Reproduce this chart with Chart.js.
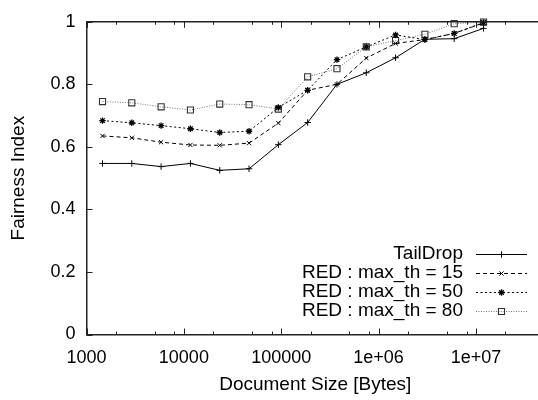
<!DOCTYPE html>
<html>
<head>
<meta charset="utf-8">
<script src="https://cdn.jsdelivr.net/npm/chart.js@4/dist/chart.umd.min.js"></script>
<style>
  html, body { margin:0; padding:0; background:#fff; overflow:hidden; }
  #wrap { width:538px; height:400px; overflow:hidden; }
</style>
</head>
<body>
<div id="wrap"><canvas id="fair" width="550" height="400"></canvas></div>
<script>
// document sizes (bytes)
const docSizes = [1460, 2920, 5840, 11680, 23360, 46720, 93440, 186880, 373760, 747520, 1495040, 2990080, 5980160, 11960320];

const tailDrop = [0.547, 0.547, 0.537, 0.547, 0.525, 0.530, 0.607, 0.678, 0.800, 0.837, 0.885, 0.944, 0.946, 0.979];
const red15    = [0.635, 0.629, 0.615, 0.606, 0.605, 0.612, 0.676, 0.781, 0.800, 0.884, 0.931, 0.943, 0.963, 0.996];
const red50    = [0.684, 0.677, 0.668, 0.658, 0.646, 0.650, 0.726, 0.781, 0.879, 0.920, 0.958, 0.943, 0.963, 0.998];
const red80    = [0.745, 0.741, 0.728, 0.718, 0.737, 0.735, 0.721, 0.824, 0.850, 0.920, 0.940, 0.960, 0.994, 0.999];

const seriesNames = ['TailDrop', 'RED : max_th = 15', 'RED : max_th = 50', 'RED : max_th = 80'];

const xTickValues = [1000, 10000, 100000, 1000000, 10000000];
const xTickLabels = ['1000', '10000', '100000', '1e+06', '1e+07'];
const xMinorSteps = [2, 5, 8];
const yTickValues = [0, 0.2, 0.4, 0.6, 0.8, 1];
const yTickLabels = ['0', '0.2', '0.4', '0.6', '0.8', '1'];

const FONT = 'Liberation Sans, Arial, sans-serif';

function pts(ys){
	return docSizes.map((x, i) => ({x, y: ys[i]}));
}

function mkSet(label, ys, color, dash, style, radius, pbw){
	return {
		label,
		data: pts(ys),
		borderColor: color,
		borderWidth: 1,
		borderDash: dash,
		pointStyle: style,
		pointRadius: radius,
		pointHoverRadius: radius,
		pointBorderColor: style == 'rect' ? '#333' : '#000',
		pointBackgroundColor: 'rgba(0,0,0,0)',
		pointBorderWidth: pbw,
		tension: 0,
		clip: false
	};
}

const datasets = [
	mkSet(seriesNames[0], tailDrop, '#000', [], 'cross', 3.2, 1),
	mkSet(seriesNames[1], red15, '#000', [4, 3], 'crossRot', 3, 1),
	mkSet(seriesNames[2], red50, '#000', [2, 2.5], 'star', 3.2, 1.3),
	mkSet(seriesNames[3], red80, '#777', [1, 1.5], 'rect', 4.3, 1.1)
];

// gnuplot style inward ticks, top border and key
const gnuplotBits = {
	id: 'gnuplotBits',
	afterDatasetsDraw(chart){
		const ctx = chart.ctx;
		const xs = chart.scales.x, ys = chart.scales.y;
		const a = chart.chartArea;
		ctx.save();
		ctx.strokeStyle = '#222';
		ctx.lineWidth = 1.5;
		ctx.beginPath();
		ctx.moveTo(a.left, a.top);
		ctx.lineTo(a.right, a.top);
		ctx.stroke();

		ctx.lineWidth = 1;
		ctx.beginPath();
		for (const v of xTickValues){
			const px = Math.round(xs.getPixelForValue(v)) + 0.5;
			ctx.moveTo(px, a.bottom); ctx.lineTo(px, a.bottom - 6);
			ctx.moveTo(px, a.top); ctx.lineTo(px, a.top + 6);
			for (const m of xMinorSteps){
				const mv = v * m;
				if (mv > xs.max) continue;
				const mx = Math.round(xs.getPixelForValue(mv)) + 0.5;
				ctx.moveTo(mx, a.bottom); ctx.lineTo(mx, a.bottom - 3);
				ctx.moveTo(mx, a.top); ctx.lineTo(mx, a.top + 3);
			}
		}
		for (const v of yTickValues){
			const py = Math.round(ys.getPixelForValue(v)) + 0.5;
			ctx.moveTo(a.left, py); ctx.lineTo(a.left + 6, py);
		}
		ctx.stroke();

		// key
		const rows = [254, 273, 292, 311];
		ctx.font = '19px ' + FONT;
		ctx.textAlign = 'right';
		ctx.textBaseline = 'middle';
		chart.data.datasets.forEach((ds, i) => {
			const y = rows[i];
			ctx.fillStyle = '#000';
			ctx.fillText(ds.label, 463, y);
			ctx.strokeStyle = ds.borderColor;
			ctx.lineWidth = ds.borderWidth;
			ctx.setLineDash(ds.borderDash);
			ctx.beginPath();
			ctx.moveTo(476, y + 0.5);
			ctx.lineTo(527, y + 0.5);
			ctx.stroke();
			ctx.setLineDash([]);
			ctx.strokeStyle = ds.pointBorderColor;
			ctx.fillStyle = ds.pointBackgroundColor;
			ctx.lineWidth = ds.pointBorderWidth;
			Chart.helpers.drawPoint(ctx, {pointStyle: ds.pointStyle, radius: ds.pointRadius, borderWidth: ds.pointBorderWidth, rotation: 0}, 501.5, y + 0.5);
		});
		ctx.restore();
	}
};

new Chart(document.getElementById('fair'), {
	type: 'line',
	data: { datasets },
	options: {
		responsive: false,
		devicePixelRatio: 1,
		animation: false,
		layout: { padding: { left: 0, right: 6, top: 12, bottom: 0 } },
		plugins: { legend: { display: false }, tooltip: { enabled: false } },
		scales: {
			x: {
				type: 'logarithmic',
				min: 1000,
				max: 50000000,
				afterBuildTicks: (s) => { s.ticks = xTickValues.map(v => ({value: v})); },
				afterFit: (s) => { s.height = 65.5; },
				grid: { display: false, drawTicks: false },
				border: { display: true, color: '#222', width: 1.5 },
				ticks: {
					autoSkip: false,
					maxRotation: 0,
					padding: 13,
					color: '#000',
					font: { family: FONT, size: 18 },
					callback: (v) => { const i = xTickValues.indexOf(v); return i >= 0 ? xTickLabels[i] : ''; }
				},
				title: {
					display: true,
					text: 'Document Size [Bytes]',
					color: '#000',
					font: { family: FONT, size: 19 },
					padding: { top: 0, bottom: 4 }
				}
			},
			y: {
				min: 0,
				max: 1,
				afterBuildTicks: (s) => { s.ticks = yTickValues.map(v => ({value: v})); },
				afterFit: (s) => { s.width = 86.5; },
				grid: { display: false, drawTicks: false },
				border: { display: true, color: '#222', width: 1.5 },
				ticks: {
					padding: 11,
					color: '#000',
					font: { family: FONT, size: 18 },
					callback: (v) => { const i = yTickValues.indexOf(v); return i >= 0 ? yTickLabels[i] : ''; }
				},
				title: {
					display: true,
					text: 'Fairness Index',
					color: '#000',
					font: { family: FONT, size: 19 },
					padding: { top: 7, bottom: 0 }
				}
			}
		}
	},
	plugins: [gnuplotBits]
});
</script>
</body>
</html>
